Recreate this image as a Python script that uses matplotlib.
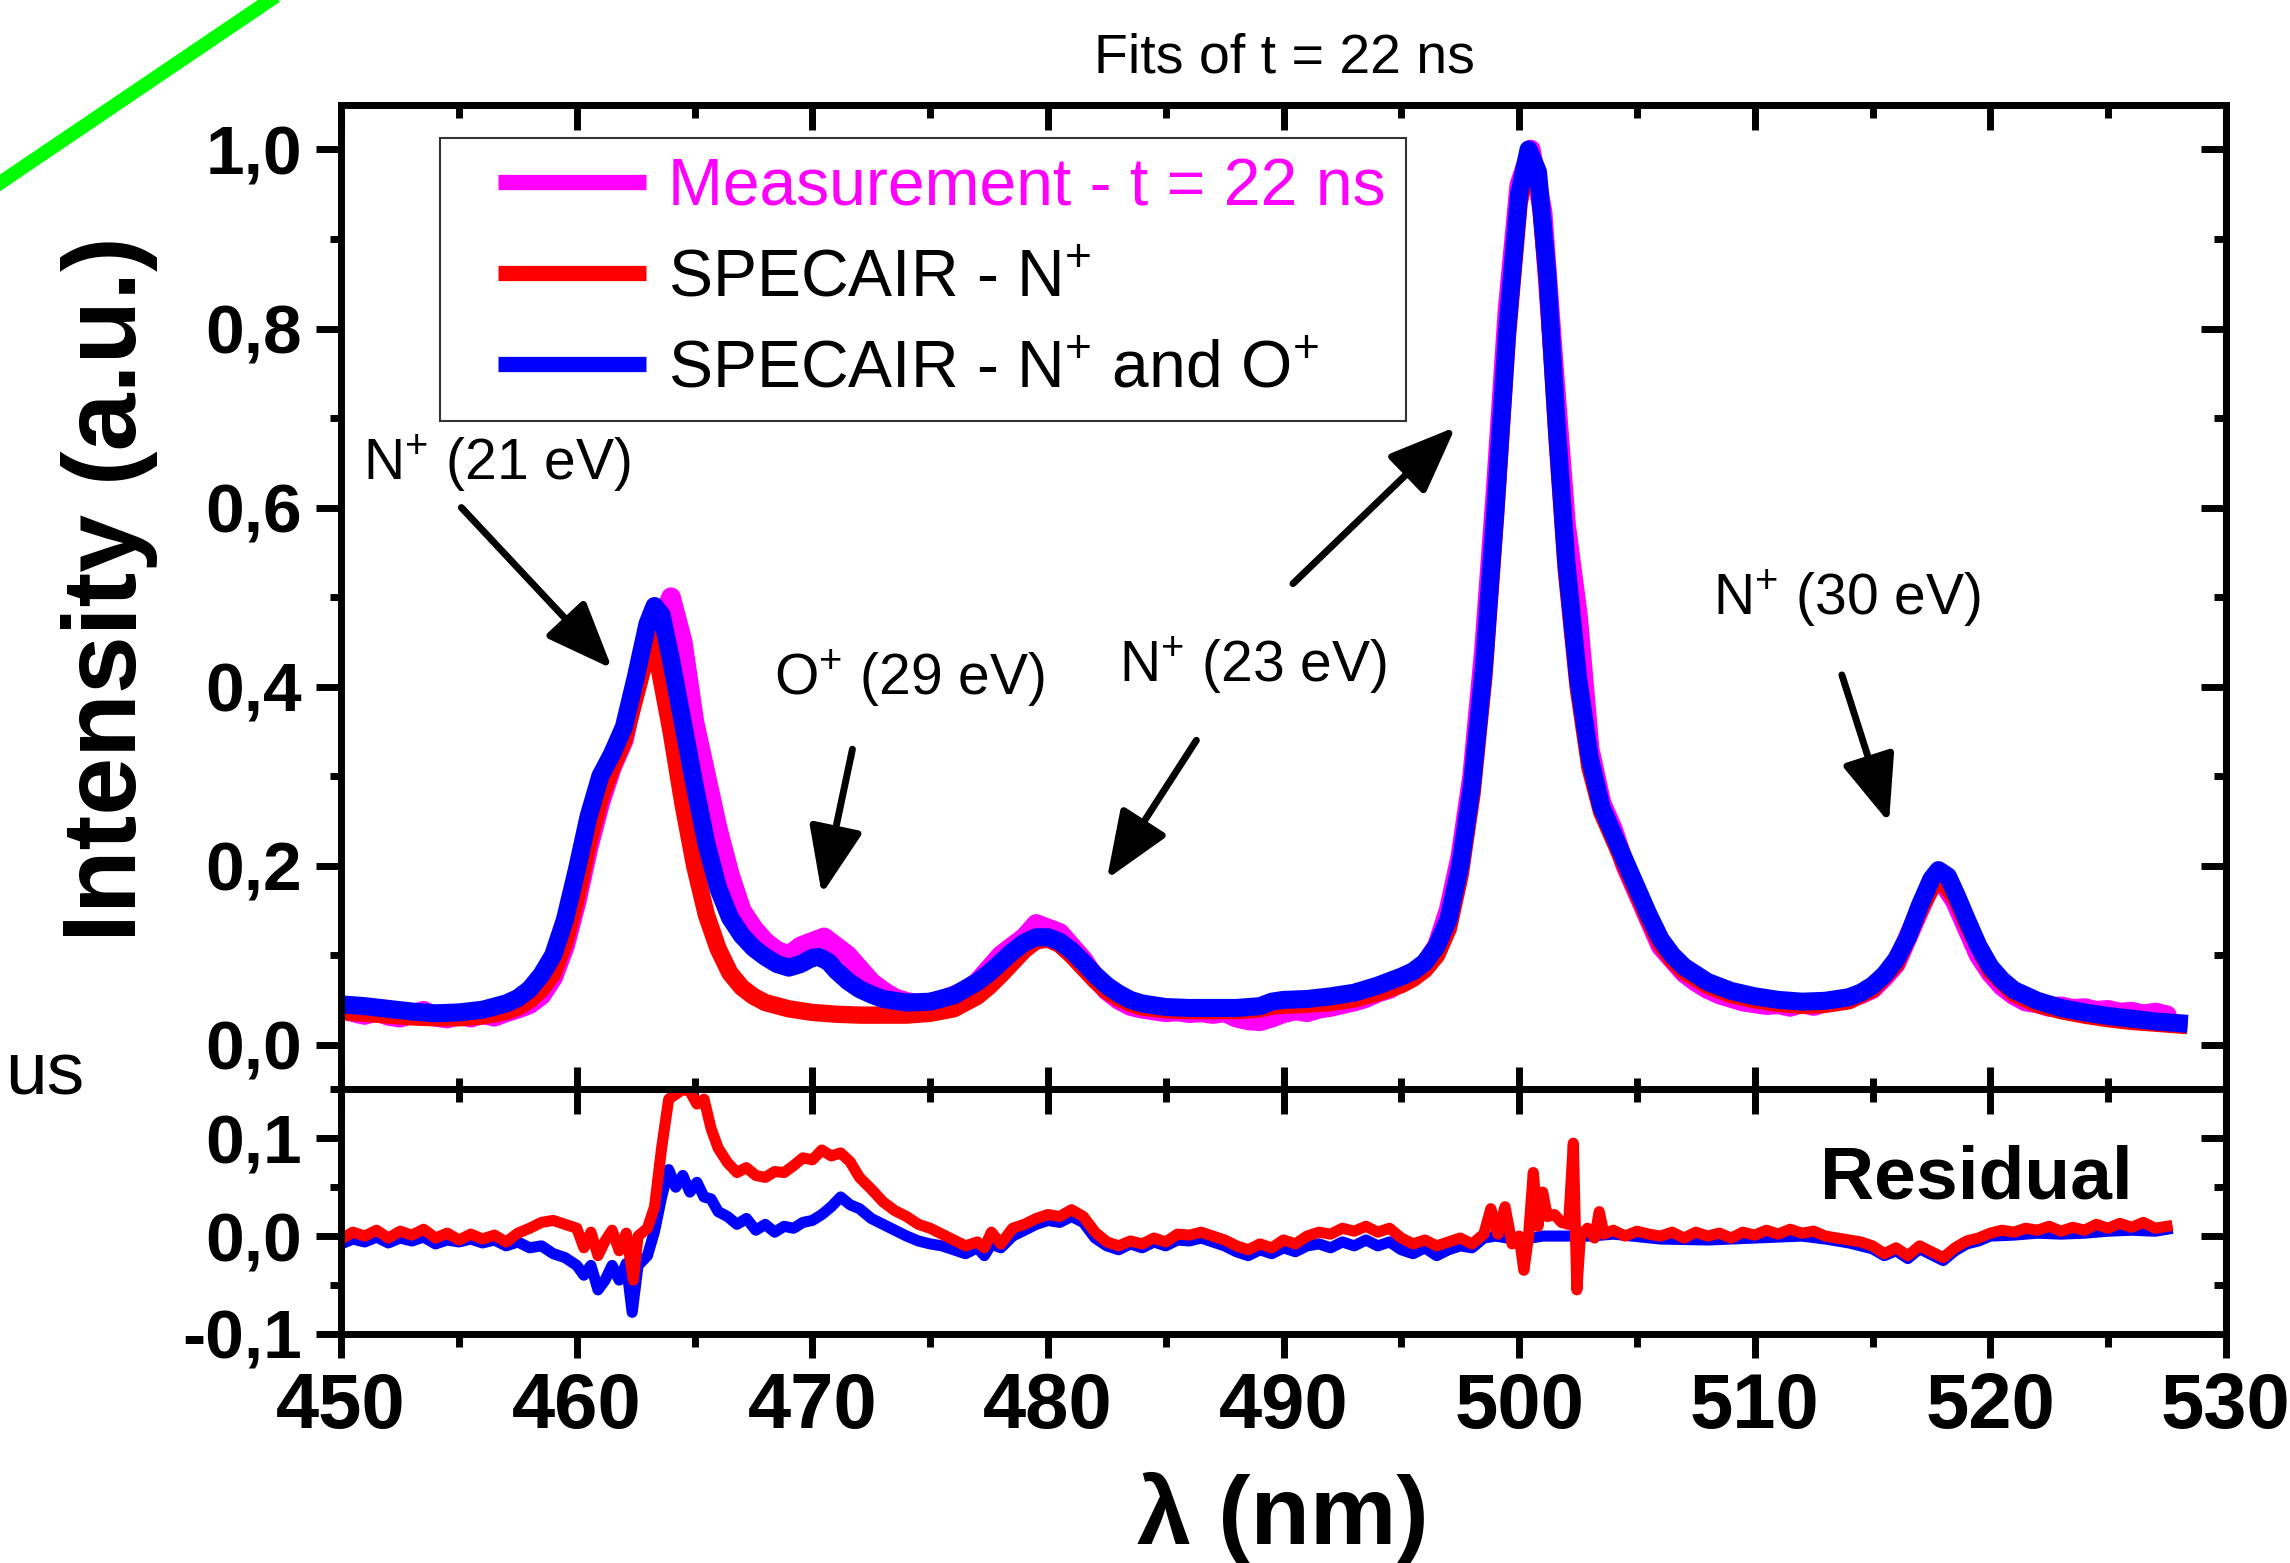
import numpy as np
import matplotlib
matplotlib.use("Agg")
import matplotlib.pyplot as plt
from matplotlib.ticker import MultipleLocator, FuncFormatter, NullFormatter
from matplotlib.lines import Line2D
from matplotlib.legend_handler import HandlerLine2D

plt.rcParams['font.family'] = ['Liberation Sans', 'DejaVu Sans']
plt.rcParams['mathtext.fontset'] = 'custom'
plt.rcParams['mathtext.rm'] = 'Liberation Sans'
plt.rcParams['mathtext.bf'] = 'Liberation Sans:bold'

# ---- data ----
# measurement, 0.5 nm steps starting at 450 nm
meas = [0.040, 0.036, 0.033, 0.037, 0.032, 0.030, 0.034, 0.038, 0.031, 0.029,
        0.033, 0.030, 0.034, 0.031, 0.036, 0.040, 0.045, 0.055, 0.075, 0.110,
        0.160, 0.220, 0.270, 0.310, 0.340, 0.400, 0.450, 0.470, 0.500, 0.450,
        0.360, 0.300, 0.240, 0.190, 0.150, 0.130, 0.115, 0.105, 0.100, 0.110,
        0.115, 0.120, 0.110, 0.100, 0.085, 0.070, 0.060, 0.052, 0.048, 0.045,
        0.047, 0.050, 0.055, 0.060, 0.070, 0.085, 0.100, 0.110, 0.120, 0.135,
        0.130, 0.125, 0.110, 0.095, 0.075, 0.060, 0.050, 0.043, 0.040, 0.038,
        0.036, 0.037, 0.035, 0.036, 0.034, 0.036, 0.030, 0.027, 0.026, 0.030,
        0.035, 0.038, 0.036, 0.040, 0.042, 0.045, 0.048, 0.052, 0.058, 0.062,
        0.070, 0.078, 0.090, 0.110, 0.150, 0.210, 0.300, 0.440, 0.620, 0.820,
        0.960, 1.000, 0.930, 0.750, 0.580, 0.480, 0.330, 0.270, 0.240, 0.200,
        0.170, 0.140, 0.110, 0.095, 0.080, 0.070, 0.062, 0.056, 0.052, 0.048,
        0.046, 0.044, 0.045, 0.042, 0.046, 0.043, 0.047, 0.049, 0.052, 0.056,
        0.062, 0.075, 0.090, 0.120, 0.150, 0.180, 0.180, 0.160, 0.130, 0.100,
        0.080, 0.065, 0.055, 0.048, 0.046, 0.042, 0.043, 0.040, 0.041, 0.038,
        0.039, 0.036, 0.037, 0.034, 0.036, 0.033]
meas_wl = 450 + 0.5 * np.arange(len(meas))

# SPECAIR fit with N+ and O+
fit_no = [(450, 0.045), (451, 0.043), (452, 0.040), (453, 0.037), (454, 0.035), (455, 0.036),
          (456, 0.039), (457, 0.046), (457.5, 0.052), (458, 0.062), (458.5, 0.078), (459, 0.10),
          (459.5, 0.14), (460, 0.195), (460.5, 0.255), (461, 0.30), (461.5, 0.325), (462, 0.355),
          (462.5, 0.41), (463, 0.47), (463.3, 0.49), (463.6, 0.48), (464, 0.43), (464.5, 0.36),
          (465, 0.29), (465.5, 0.225), (466, 0.175), (466.5, 0.142), (467, 0.122), (467.5, 0.108),
          (468, 0.098), (468.5, 0.09), (469, 0.086), (469.5, 0.09), (470, 0.097), (470.3, 0.098),
          (470.7, 0.092), (471, 0.083), (471.5, 0.071), (472, 0.062), (472.5, 0.056), (473, 0.051),
          (474, 0.047), (475, 0.048), (476, 0.055), (477, 0.07), (477.5, 0.08), (478, 0.092),
          (478.5, 0.104), (479, 0.114), (479.5, 0.12), (480, 0.12), (480.5, 0.115), (481, 0.105),
          (481.5, 0.092), (482, 0.078), (482.5, 0.066), (483, 0.057), (483.5, 0.05), (484, 0.046),
          (485, 0.042), (486, 0.041), (487, 0.041), (488, 0.041), (489, 0.043), (489.5, 0.048),
          (490, 0.05), (491, 0.051), (492, 0.054), (493, 0.058), (494, 0.066), (495, 0.076),
          (495.5, 0.082), (496, 0.092), (496.5, 0.11), (497, 0.14), (497.5, 0.2), (498, 0.29),
          (498.5, 0.42), (499, 0.6), (499.5, 0.8), (500, 0.95), (500.4, 1.0), (500.8, 0.975),
          (501.2, 0.86), (501.6, 0.69), (502, 0.54), (502.5, 0.41), (503, 0.32), (503.5, 0.265),
          (504, 0.235), (504.5, 0.205), (505, 0.175), (505.5, 0.145), (506, 0.118), (506.5, 0.1),
          (507, 0.087), (508, 0.07), (509, 0.06), (510, 0.054), (511, 0.05), (512, 0.048),
          (513, 0.049), (514, 0.053), (514.5, 0.058), (515, 0.066), (515.5, 0.078), (516, 0.095),
          (516.5, 0.12), (517, 0.155), (517.5, 0.185), (517.8, 0.195), (518.2, 0.188),
          (518.6, 0.165), (519, 0.14), (519.5, 0.11), (520, 0.087), (520.5, 0.072), (521, 0.061),
          (522, 0.049), (523, 0.041), (524, 0.036), (525, 0.032), (526, 0.029), (527, 0.026),
          (528, 0.024)]

# SPECAIR fit with N+ only
fit_n = [(450, 0.037), (451, 0.035), (452, 0.033), (453, 0.031), (454, 0.030), (455, 0.030),
         (456, 0.032), (457, 0.037), (457.5, 0.042), (458, 0.050), (458.5, 0.062), (459, 0.080),
         (459.5, 0.115), (460, 0.165), (460.5, 0.225), (461, 0.275), (461.5, 0.31), (462, 0.34),
         (462.5, 0.39), (463, 0.44), (463.2, 0.455), (463.5, 0.42), (464, 0.35), (464.5, 0.27),
         (465, 0.20), (465.5, 0.145), (466, 0.107), (466.5, 0.080), (467, 0.064), (467.5, 0.054),
         (468, 0.047), (469, 0.040), (470, 0.036), (471, 0.034), (472, 0.033), (473, 0.033),
         (474, 0.033), (475, 0.035), (476, 0.040), (477, 0.054), (477.5, 0.065), (478, 0.078),
         (478.5, 0.092), (479, 0.106), (479.5, 0.116), (480, 0.118), (480.5, 0.112), (481, 0.100),
         (481.5, 0.086), (482, 0.072), (482.5, 0.060), (483, 0.052), (483.5, 0.046), (484, 0.042),
         (485, 0.039), (486, 0.038), (487, 0.038), (488, 0.038), (489, 0.040), (489.5, 0.043),
         (490, 0.044), (491, 0.045), (492, 0.047), (493, 0.051), (494, 0.058), (495, 0.067),
         (495.5, 0.074), (496, 0.084), (496.5, 0.10), (497, 0.13), (497.5, 0.19), (498, 0.28),
         (498.5, 0.41), (499, 0.59), (499.5, 0.79), (500, 0.94), (500.4, 0.99), (500.8, 0.97),
         (501.2, 0.85), (501.6, 0.68), (502, 0.53), (502.5, 0.40), (503, 0.31), (503.5, 0.26),
         (504, 0.23), (504.5, 0.20), (505, 0.17), (505.5, 0.14), (506, 0.113), (506.5, 0.095),
         (507, 0.082), (508, 0.066), (509, 0.056), (510, 0.050), (511, 0.046), (512, 0.044),
         (513, 0.045), (514, 0.049), (515, 0.062), (516, 0.090), (517, 0.15), (517.8, 0.19),
         (518.6, 0.16), (519, 0.135), (520, 0.083), (521, 0.057), (522, 0.045), (523, 0.038),
         (524, 0.033), (525, 0.029), (526, 0.026), (527, 0.024), (528, 0.022)]

# residuals (measurement - fit)
res_n = [(450, -0.003), (450.5, 0.004), (451, 0.0), (451.5, 0.006), (452, -0.002), (452.5, 0.005),
         (453, 0.001), (453.5, 0.007), (454, -0.002), (454.5, 0.003), (455, -0.004), (455.5, 0.002),
         (456, -0.003), (456.5, 0.001), (457, -0.006), (457.5, 0.003), (458, 0.008), (458.5, 0.014),
         (459, 0.016), (459.5, 0.012), (460, 0.008), (460.3, -0.012), (460.6, 0.004), (460.9, -0.02),
         (461.2, -0.005), (461.5, 0.006), (461.8, -0.015), (462.1, 0.003), (462.4, -0.045),
         (462.6, 0.0), (463, 0.008), (463.3, 0.03), (463.6, 0.09), (463.9, 0.14), (464.2, 0.145),
         (464.5, 0.15), (464.8, 0.148), (465.1, 0.135), (465.4, 0.14), (465.7, 0.11), (466, 0.09),
         (466.4, 0.075), (466.8, 0.065), (467.2, 0.07), (467.6, 0.062), (468, 0.06), (468.4, 0.066),
         (468.8, 0.065), (469.2, 0.072), (469.6, 0.08), (470, 0.078), (470.4, 0.088), (470.8, 0.082),
         (471.2, 0.085), (471.6, 0.076), (472, 0.06), (472.5, 0.048), (473, 0.035), (473.5, 0.026),
         (474, 0.02), (474.5, 0.012), (475, 0.008), (475.5, 0.002), (476, -0.004), (476.5, -0.01),
         (477, -0.006), (477.3, -0.012), (477.6, 0.004), (478, -0.008), (478.5, 0.008), (479, 0.012),
         (479.5, 0.018), (480, 0.022), (480.5, 0.02), (481, 0.027), (481.5, 0.02), (482, 0.004),
         (482.5, -0.006), (483, -0.01), (483.5, -0.005), (484, -0.008), (484.5, -0.002),
         (485, -0.006), (485.5, 0.002), (486, 0.001), (486.5, 0.004), (487, 0.0), (487.5, -0.004),
         (488, -0.01), (488.5, -0.014), (489, -0.008), (489.5, -0.012), (490, -0.004),
         (490.5, -0.008), (491, 0.0), (491.5, 0.004), (492, 0.002), (492.5, 0.008), (493, 0.005),
         (493.5, 0.01), (494, 0.004), (494.5, 0.008), (495, -0.002), (495.5, -0.008), (496, -0.004),
         (496.5, -0.01), (497, -0.006), (497.5, -0.002), (498, -0.008), (498.5, 0.002),
         (498.8, 0.028), (499.1, 0.002), (499.4, 0.03), (499.7, -0.008), (500, 0.0), (500.2, -0.035),
         (500.4, 0.0), (500.6, 0.065), (500.8, 0.01), (501, 0.045), (501.2, 0.02), (501.5, 0.022),
         (501.8, 0.014), (502.1, 0.012), (502.3, 0.095), (502.45, -0.055), (502.6, 0.0),
         (502.9, 0.008), (503.2, -0.002), (503.4, 0.025), (503.6, 0.002), (504, 0.006), (504.5, 0.0),
         (505, 0.005), (505.5, 0.002), (506, 0.0), (506.5, 0.004), (507, -0.002), (507.5, 0.004),
         (508, 0.0), (508.5, 0.003), (509, -0.002), (509.5, 0.004), (510, 0.001), (510.5, 0.006),
         (511, 0.002), (511.5, 0.007), (512, 0.003), (512.5, 0.005), (513, 0.0), (513.5, -0.002),
         (514, -0.004), (514.5, -0.006), (515, -0.01), (515.5, -0.018), (516, -0.012),
         (516.5, -0.02), (517, -0.01), (517.5, -0.016), (518, -0.022), (518.5, -0.012),
         (519, -0.005), (519.5, -0.002), (520, 0.003), (520.5, 0.006), (521, 0.004), (521.5, 0.008),
         (522, 0.006), (522.5, 0.01), (523, 0.005), (523.5, 0.009), (524, 0.006), (524.5, 0.012),
         (525, 0.008), (525.5, 0.013), (526, 0.009), (526.5, 0.014), (527, 0.008), (527.5, 0.01)]

res_no = [(450, -0.008), (450.5, -0.003), (451, -0.006), (451.5, -0.001), (452, -0.007),
          (452.5, -0.002), (453, -0.005), (453.5, -0.001), (454, -0.008), (454.5, -0.004),
          (455, -0.006), (455.5, -0.003), (456, -0.007), (456.5, -0.004), (457, -0.01),
          (457.5, -0.006), (458, -0.012), (458.5, -0.01), (459, -0.018), (459.5, -0.022),
          (460, -0.03), (460.3, -0.04), (460.6, -0.03), (460.9, -0.055), (461.2, -0.045),
          (461.5, -0.03), (461.8, -0.045), (462.1, -0.028), (462.35, -0.078), (462.6, -0.03),
          (463, -0.02), (463.3, 0.005), (463.6, 0.04), (463.9, 0.068), (464.2, 0.05), (464.5, 0.062),
          (464.8, 0.045), (465.1, 0.055), (465.4, 0.04), (465.7, 0.038), (466, 0.025), (466.4, 0.02),
          (466.8, 0.012), (467.2, 0.018), (467.6, 0.006), (468, 0.012), (468.4, 0.004), (468.8, 0.01),
          (469.2, 0.008), (469.6, 0.014), (470, 0.016), (470.4, 0.022), (470.8, 0.03), (471.2, 0.04),
          (471.6, 0.032), (472, 0.028), (472.5, 0.018), (473, 0.012), (473.5, 0.006), (474, 0.0),
          (474.5, -0.005), (475, -0.008), (475.5, -0.01), (476, -0.014), (476.5, -0.018),
          (477, -0.012), (477.3, -0.02), (477.6, -0.008), (478, -0.012), (478.5, 0.0), (479, 0.006),
          (479.5, 0.012), (480, 0.016), (480.5, 0.014), (481, 0.02), (481.5, 0.014), (482, -0.002),
          (482.5, -0.01), (483, -0.014), (483.5, -0.008), (484, -0.012), (484.5, -0.006),
          (485, -0.01), (485.5, -0.004), (486, -0.005), (486.5, -0.002), (487, -0.006),
          (487.5, -0.01), (488, -0.016), (488.5, -0.02), (489, -0.014), (489.5, -0.018),
          (490, -0.012), (490.5, -0.016), (491, -0.01), (491.5, -0.008), (492, -0.012),
          (492.5, -0.006), (493, -0.01), (493.5, -0.004), (494, -0.01), (494.5, -0.006),
          (495, -0.014), (495.5, -0.018), (496, -0.012), (496.5, -0.02), (497, -0.014),
          (497.5, -0.01), (498, -0.012), (498.5, -0.002), (499, 0.0), (500, -0.004), (501, 0.0),
          (502, 0.0), (503, 0.0), (504, 0.002), (506, -0.003), (508, -0.004), (510, -0.002),
          (512, 0.0), (513, -0.003), (514, -0.007), (515, -0.013), (515.5, -0.02), (516, -0.015),
          (516.5, -0.023), (517, -0.013), (517.5, -0.019), (518, -0.025), (518.5, -0.015),
          (519, -0.008), (519.5, -0.005), (520, 0.0), (521, 0.001), (522, 0.003), (523, 0.002),
          (524, 0.003), (525, 0.005), (526, 0.006), (527, 0.005), (527.5, 0.007)]

fit_no_x, fit_no_y = np.array(fit_no).T
fit_n_x, fit_n_y = np.array(fit_n).T
res_n_x, res_n_y = np.array(res_n).T
res_no_x, res_no_y = np.array(res_no).T

MAGENTA = '#ff00ff'
RED = '#ff0000'
BLUE = '#0000ff'


class PaddedLine(HandlerLine2D):
    # legend line with some empty space on its left
    def get_xdata(self, legend, xdescent, ydescent, width, height, fontsize):
        pad = 0.57 * fontsize
        return [-xdescent + pad, -xdescent + width], [-xdescent + 0.5 * width]


fig = plt.figure(figsize=(22.9, 15.63), dpi=100)
ax = fig.add_axes([0.149, 0.303, 0.823, 0.630])
axr = fig.add_axes([0.149, 0.1466, 0.823, 0.1564], sharex=ax)

ax.plot(meas_wl, meas, color=MAGENTA, lw=14, solid_capstyle='round', solid_joinstyle='round')
ax.plot(fit_n_x, fit_n_y, color=RED, lw=12.5, solid_joinstyle='round')
ax.plot(fit_no_x, fit_no_y, color=BLUE, lw=13, solid_joinstyle='round')

axr.plot(res_no_x, res_no_y, color=BLUE, lw=8, solid_joinstyle='round')
axr.plot(res_n_x, res_n_y, color=RED, lw=8, solid_joinstyle='round')

ax.set_xlim(450, 530)
ax.set_ylim(-0.05, 1.05)
axr.set_ylim(-0.1, 0.15)

comma = FuncFormatter(lambda v, p: f"{v:.1f}".replace('.', ','))
for a, maj, mnr in [(ax, 0.2, 0.1), (axr, 0.1, 0.05)]:
    a.yaxis.set_major_locator(MultipleLocator(maj))
    a.yaxis.set_minor_locator(MultipleLocator(mnr))
    a.yaxis.set_major_formatter(comma)
    a.xaxis.set_major_locator(MultipleLocator(10))
    a.xaxis.set_minor_locator(MultipleLocator(5))
    for s in a.spines.values():
        s.set_linewidth(5)
    a.tick_params(axis='y', which='major', direction='out', length=18, width=5,
                  labelsize=50, pad=10)
    a.tick_params(axis='y', which='minor', direction='out', length=8, width=5)
    for lab in a.get_yticklabels():
        lab.set_fontweight('bold')

ax.tick_params(axis='x', which='major', direction='in', length=16, width=5, labelbottom=False)
ax.tick_params(axis='x', which='minor', direction='in', length=8, width=5)
axr.tick_params(axis='x', which='major', direction='out', length=17, width=5,
                labelsize=56, pad=10)
axr.tick_params(axis='x', which='minor', direction='out', length=9, width=5)
for lab in axr.get_xticklabels():
    lab.set_fontweight('bold')

# inward ticks on top / right sides
for a, maj, mnr in [(ax, 0.2, 0.1), (axr, 0.1, 0.05)]:
    sx = a.secondary_xaxis('top')
    sx.xaxis.set_major_locator(MultipleLocator(10))
    sx.xaxis.set_minor_locator(MultipleLocator(5))
    sx.xaxis.set_major_formatter(NullFormatter())
    sx.tick_params(which='major', direction='in', length=18, width=5)
    sx.tick_params(which='minor', direction='in', length=9, width=5)
    sx.spines['top'].set_linewidth(5)
    sy = a.secondary_yaxis('right')
    sy.yaxis.set_major_locator(MultipleLocator(maj))
    sy.yaxis.set_minor_locator(MultipleLocator(mnr))
    sy.yaxis.set_major_formatter(NullFormatter())
    sy.tick_params(which='major', direction='in', length=18, width=5)
    sy.tick_params(which='minor', direction='in', length=9, width=5)
    sy.spines['right'].set_linewidth(5)

# legend
handles = [Line2D([], [], color=MAGENTA, lw=11, solid_capstyle='butt'),
           Line2D([], [], color=RED, lw=11, solid_capstyle='butt'),
           Line2D([], [], color=BLUE, lw=11, solid_capstyle='butt')]
labels = ['Measurement - t = 22 ns', 'SPECAIR - N$^{+}$', 'SPECAIR - N$^{+}$ and O$^{+}$']
handler = PaddedLine()
leg = ax.legend(handles, labels, loc='upper left', bbox_to_anchor=(0.0525, 0.9665),
                fontsize=47.5, frameon=True, fancybox=False, edgecolor='black',
                handlelength=2.82, handletextpad=0.34, labelspacing=0.44,
                borderpad=0.3, borderaxespad=0,
                handler_map={h: handler for h in handles})
leg.get_frame().set_linewidth(1.5)
leg.get_texts()[0].set_color(MAGENTA)

# annotations
arrow = dict(arrowstyle='-|>,head_length=0.75,head_width=0.3', color='black', lw=5,
             mutation_scale=55, shrinkA=0, shrinkB=0)
ax.text(456.6, 0.649, 'N$^{+}$ (21 eV)', fontsize=41, ha='center', va='center')
ax.annotate('', xy=(461.5, 0.420), xytext=(455.1, 0.600), arrowprops=arrow)
ax.text(474.1, 0.409, 'O$^{+}$ (29 eV)', fontsize=41, ha='center', va='center')
ax.annotate('', xy=(470.4, 0.168), xytext=(471.7, 0.330), arrowprops=arrow)
ax.text(488.7, 0.423, 'N$^{+}$ (23 eV)', fontsize=41, ha='center', va='center')
ax.annotate('', xy=(482.5, 0.185), xytext=(486.3, 0.340), arrowprops=arrow)
ax.annotate('', xy=(497.3, 0.690), xytext=(490.4, 0.515), arrowprops=arrow)
ax.text(513.9, 0.498, 'N$^{+}$ (30 eV)', fontsize=41, ha='center', va='center')
ax.annotate('', xy=(515.7, 0.248), xytext=(513.7, 0.413), arrowprops=arrow)

axr.text(519.4, 0.058, 'Residual', fontsize=54, fontweight='bold', ha='center', va='center')

# labels and title
fig.text(0.048, 0.623, 'Intensity (a.u.)', rotation=90, fontsize=75, fontweight='bold',
         ha='center', va='center')
fig.text(0.56, 0.029, 'λ (nm)', fontsize=70, fontweight='bold', ha='center', va='center')
fig.text(0.561, 0.9626, 'Fits of t = 22 ns', fontsize=40, ha='center', va='center')

# leftovers of neighbouring panels
fig.add_artist(Line2D([0.0, 0.118], [0.883, 1.0], color='#00ff00', lw=10,
                      transform=fig.transFigure))
fig.text(0.037, 0.312, 'us', fontsize=54, ha='right', va='center')

fig.savefig('out.png', dpi=100)
